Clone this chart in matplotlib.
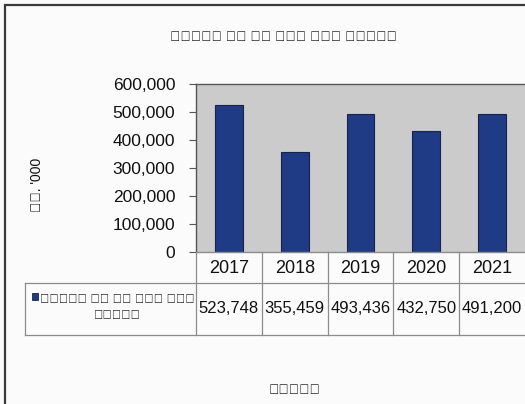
import numpy as np
import matplotlib
matplotlib.use("Agg")
import matplotlib.pyplot as plt
from matplotlib.patches import Rectangle
from matplotlib.ticker import FuncFormatter

plt.rcParams['font.family'] = ['Liberation Sans', 'DejaVu Sans']

years = ['2017', '2018', '2019', '2020', '2021']
values = [523748, 355459, 493436, 432750, 491200]
series_name = 'උසාවි දඩ හා රජය සතු\nකිරීම'
title = 'උසාවි දඩ හා රජය සතු කිරීම'
ylabel = "රු. '000"
xlabel = 'වර්ෂය'

W, H = 525, 404
bar_color = '#1f3b86'
grid_gray = '#8c8c8c'


def fx(px):
    return px / W


def fy(py):
    return 1 - py / H


fig = plt.figure(figsize=(W / 100, H / 100), dpi=100, facecolor='#fbfbfb')

# outer chart frame (runs on past the right and bottom edge of the scan)
fig.patches.append(Rectangle((fx(5), fy(420)), fx(600), fy(5) - fy(420),
                             transform=fig.transFigure, fill=False,
                             edgecolor='#3a3a3a', linewidth=1.6))

# plot area
x0, x1, y0, y1 = 196, 525, 84, 252
ax = fig.add_axes([fx(x0), fy(y1), fx(x1 - x0), fy(y0) - fy(y1)])
ax.set_facecolor('#cbcbcb')
x = np.arange(len(years))
ax.bar(x, values, width=0.42, color=bar_color, edgecolor='#16234d', linewidth=0.8)
ax.set_xlim(-0.5, len(years) - 0.5)
ax.set_ylim(0, 600000)
ax.set_yticks(np.arange(0, 600001, 100000))
ax.yaxis.set_major_formatter(FuncFormatter(lambda v, p: f'{int(v):,}'))
ax.tick_params(axis='y', direction='out', length=5, width=0.8, pad=10,
               labelsize=12.5, colors='#555555', labelcolor='#111111')
ax.set_xticks([])
for s in ['top', 'left']:
    ax.spines[s].set_color('#555555')
    ax.spines[s].set_linewidth(1.0)
ax.spines['right'].set_visible(False)
ax.spines['bottom'].set_color(grid_gray)
ax.spines['bottom'].set_linewidth(1.0)

# data table under the plot
tx0, ty0, ty1 = 25, 252, 335
cat_w = (x1 - x0) / len(years)
tax = fig.add_axes([fx(tx0), fy(ty1), fx(x1 - tx0), fy(ty0) - fy(ty1)])
left = -0.5 - (x0 - tx0) / cat_w
tax.set_xlim(left, len(years) - 0.5)
tax.set_ylim(ty1, ty0)
tax.axis('off')
row_split = 283
for i in range(len(years)):
    tax.plot([i - 0.5, i - 0.5], [ty0, ty1], color=grid_gray, lw=0.9,
             clip_on=False)
tax.plot([left, len(years) - 0.5], [row_split, row_split], color=grid_gray,
         lw=0.9, clip_on=False)
tax.plot([left, len(years) - 0.5], [ty1, ty1], color=grid_gray, lw=0.9,
         clip_on=False)
tax.plot([left, left], [row_split, ty1], color=grid_gray, lw=0.9, clip_on=False)
for i, (yr, v) in enumerate(zip(years, values)):
    tax.text(i, (ty0 + row_split) / 2 + 1, yr, ha='center', va='center',
             fontsize=13, color='#111111', clip_on=False)
    tax.text(i, (row_split + ty1) / 2, f'{v:,}', ha='center', va='center',
             fontsize=12, color='#111111', clip_on=False)

# legend key + series name in the first cell
fig.patches.append(Rectangle((fx(32), fy(300)), fx(6), fy(293) - fy(300),
                             transform=fig.transFigure, facecolor=bar_color,
                             edgecolor='#16234d', linewidth=0.6))
fig.text(fx(117), fy(308), series_name, ha='center', va='center',
         fontsize=9, linespacing=1.5, color='#111111')

fig.text(fx(283), fy(37), title, ha='center', va='center', fontsize=10,
         color='#111111')
fig.text(fx(37), fy(185), ylabel, ha='center', va='center', rotation=90,
         fontsize=10, color='#111111')
fig.text(fx(295), fy(390), xlabel, ha='center', va='center', fontsize=10,
         color='#111111')

fig.savefig('out.png', dpi=100, facecolor=fig.get_facecolor())
